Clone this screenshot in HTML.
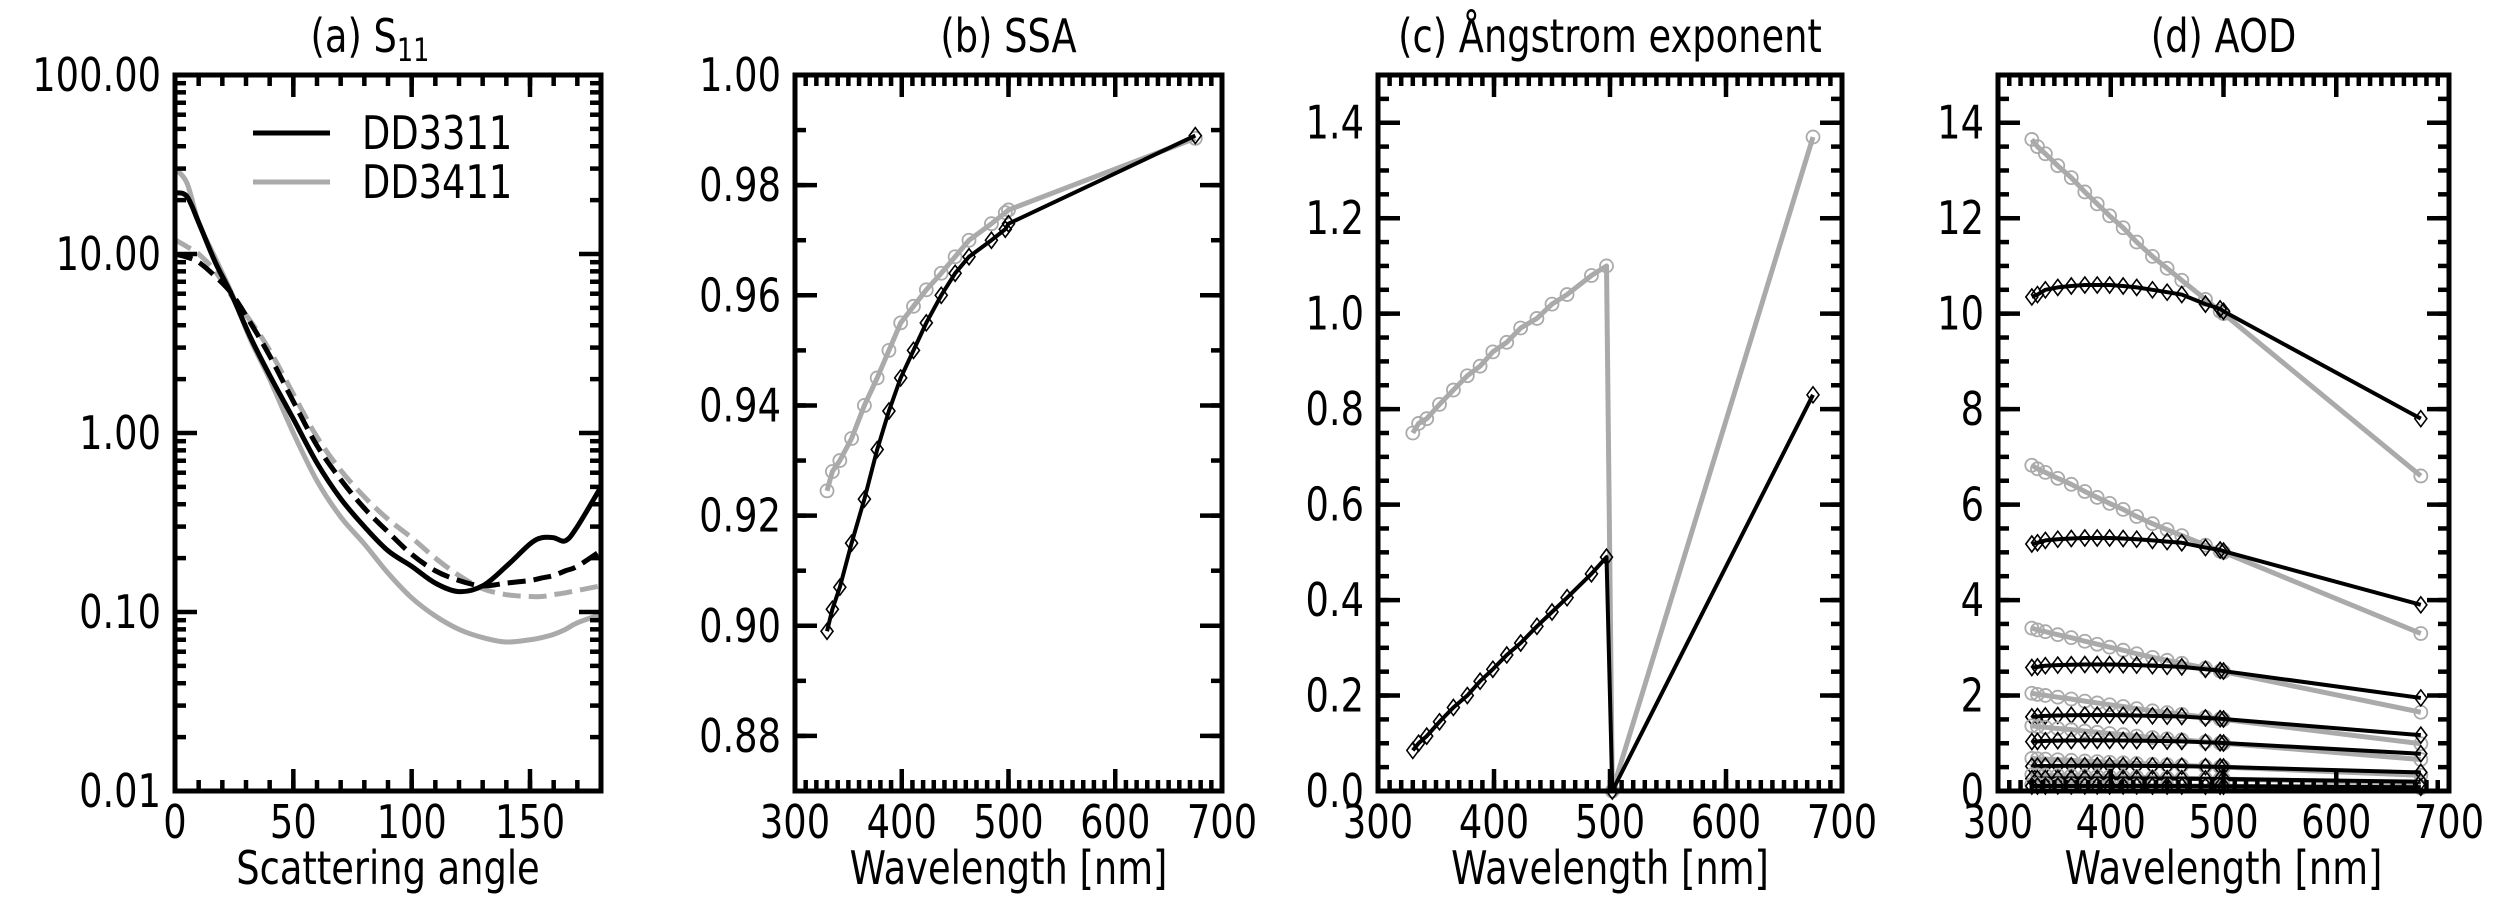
<!DOCTYPE html>
<html><head><meta charset="utf-8"><style>
html,body{margin:0;padding:0;background:#fff;}
svg{display:block;}
text{font-family:"DejaVu Sans","Liberation Sans",sans-serif;fill:#000;}
</style></head><body>
<svg id="fig" width="2499" height="905" viewBox="0 0 2499 905" xmlns="http://www.w3.org/2000/svg"></svg>
<script>
// ---------- data ----------
// (a) S11 phase function
const angA = [0,5,10,17,24,32,40,50,60,70,80,90,100,110,120,130,140,150,155,160,165,170,180];
const s11BlackSolid = [22,21,15,9,5.9,3.4,2.1,1.2,0.68,0.43,0.30,0.22,0.18,0.145,0.13,0.14,0.18,0.24,0.26,0.26,0.25,0.30,0.5];
const s11BlackDash  = [10,9.6,9,7.5,6,4.1,2.7,1.5,0.85,0.55,0.38,0.28,0.21,0.17,0.15,0.14,0.145,0.15,0.155,0.16,0.17,0.18,0.22];
const s11GraySolid  = [30,25,15,9.5,6,3.3,2.0,1.0,0.54,0.34,0.24,0.165,0.12,0.095,0.08,0.072,0.068,0.07,0.072,0.075,0.08,0.087,0.097];
const s11GrayDash   = [12,11,10,8,5.8,4.2,2.9,1.65,0.95,0.62,0.44,0.33,0.26,0.2,0.16,0.135,0.125,0.122,0.122,0.125,0.128,0.132,0.14];
const yTicksA = [0.01,0.1,1,10,100];
const yLabelsA = ["0.01","0.10","1.00","10.00","100.00"];
const xTicksA = [0,50,100,150];
// (b) SSA
const wlB = [330,335,342,353,365,377,388,399,411,423,437,450,463,484,497,500,675];
const ssaBlack = [0.899,0.903,0.907,0.915,0.923,0.932,0.939,0.945,0.950,0.955,0.960,0.964,0.967,0.970,0.972,0.973,0.989];
const ssaGray  = [0.9245,0.928,0.930,0.934,0.940,0.945,0.950,0.955,0.958,0.961,0.964,0.967,0.970,0.973,0.975,0.9755,0.9885];
const yTicksB = [0.88,0.90,0.92,0.94,0.96,0.98,1.00];
// (c) Angstrom exponent
const wlC = [330,335,342,353,365,377,388,399,411,423,437,450,463,484,497,502,675];
const angBlack = [0.085,0.10,0.115,0.145,0.175,0.20,0.23,0.255,0.285,0.31,0.345,0.375,0.405,0.455,0.49,0.0,0.83];
const angGray  = [0.75,0.77,0.78,0.81,0.84,0.87,0.89,0.92,0.94,0.97,0.99,1.02,1.04,1.08,1.10,0.0,1.37];
const yTicksC = [0,0.2,0.4,0.6,0.8,1.0,1.2,1.4];
// (d) AOD
const wlD = [330,335,342,353,365,377,388,399,411,423,437,450,463,484,497,500,675];
const aodBlack = [10.35,10.4,10.5,10.55,10.58,10.6,10.6,10.6,10.58,10.55,10.5,10.45,10.4,10.2,10.1,10.05,7.8];
const aodGray  = [13.65,13.5,13.35,13.1,12.85,12.55,12.3,12.05,11.8,11.5,11.2,10.95,10.7,10.3,10.05,10.0,6.6];
const aodScales = [1,0.5,0.25,0.15,0.1,0.05,0.025,0.01];
const yTicksD = [0,2,4,6,8,10,12,14];
const xTicksW = [300,400,500,600,700];

// ---------- drawing ----------
const NS = "http://www.w3.org/2000/svg";
const svg = document.getElementById('fig');
const TOP = 75, BOT = 791, GRAY = "#aaaaaa", FS = 46, SX = 0.8;
function mk(tag, attrs, parent){ const e=document.createElementNS(NS,tag); for(const k in attrs) e.setAttribute(k,attrs[k]); (parent||svg).appendChild(e); return e; }
function txt(x,y,s,anchor,size,parent){
  const t=mk('text',{transform:`translate(${x},${y}) scale(${SX},1)`,'text-anchor':anchor,'font-size':size},parent);
  t.textContent=s; return t;
}
function panel(name,L,R,xmin,xmax,ymin,ymax,log){
  const g=mk('g',{});
  
  
  const sx=v=>L+(v-xmin)/(xmax-xmin)*(R-L);
  const sy=log? v=>BOT-(Math.log10(v)-Math.log10(ymin))/(Math.log10(ymax)-Math.log10(ymin))*(BOT-TOP)
              : v=>BOT-(v-ymin)/(ymax-ymin)*(BOT-TOP);
  return {g,sx,sy,L,R};
}
function ticks(p,xs,ys){
  const tg=mk('g',{stroke:'#000','stroke-width':4.5},p.g);
  
  
  for(const v of xs.minor){ const x=p.sx(v); mk('line',{x1:x,x2:x,y1:BOT,y2:BOT-11},tg); mk('line',{x1:x,x2:x,y1:TOP,y2:TOP+11},tg); }
  for(const v of xs.major){ const x=p.sx(v); mk('line',{x1:x,x2:x,y1:BOT,y2:BOT-22},tg); mk('line',{x1:x,x2:x,y1:TOP,y2:TOP+22},tg); }
  for(const v of ys.minor){ const y=p.sy(v); mk('line',{x1:p.L,x2:p.L+11,y1:y,y2:y},tg); mk('line',{x1:p.R,x2:p.R-11,y1:y,y2:y},tg); }
  for(const v of ys.major){ const y=p.sy(v); mk('line',{x1:p.L,x2:p.L+22,y1:y,y2:y},tg); mk('line',{x1:p.R,x2:p.R-22,y1:y,y2:y},tg); }
}
function frame(p){ const r=mk('rect',{x:p.L,y:TOP,width:p.R-p.L,height:BOT-TOP,fill:'none',stroke:'#000','stroke-width':5},p.g);
    }
function range(a,b,s){const o=[];for(let v=a;v<=b+1e-9;v+=s)o.push(+v.toFixed(6));return o;}
function xlabels(p,vals,labels){ vals.forEach((v,i)=>{ const t=txt(p.sx(v),838,labels[i],'middle',FS,p.g);
    }); }
function ylabels(p,vals,labels){ vals.forEach((v,i)=>{ const t=txt(p.L-14,p.sy(v)+16,labels[i],'end',FS,p.g);
    }); }
function title(p,s,sub){ const t=txt((p.L+p.R)/2-(sub?18:0),52,s,'middle',FS,p.g);
  if(sub){ const ts=document.createElementNS(NS,'tspan'); ts.setAttribute('font-size',32); ts.setAttribute('dy',9); ts.textContent=sub; t.appendChild(ts);}
    }
function xtitle(p,s){ const t=txt((p.L+p.R)/2,884,s,'middle',FS,p.g);   }
function smoothPath(pts){
  let d=`M${pts[0][0]},${pts[0][1]}`;
  for(let i=0;i<pts.length-1;i++){
    const p0=pts[Math.max(0,i-1)],p1=pts[i],p2=pts[i+1],p3=pts[Math.min(pts.length-1,i+2)];
    const c1=[p1[0]+(p2[0]-p0[0])/6,p1[1]+(p2[1]-p0[1])/6], c2=[p2[0]-(p3[0]-p1[0])/6,p2[1]-(p3[1]-p1[1])/6];
    d+=` C${c1[0]},${c1[1]} ${c2[0]},${c2[1]} ${p2[0]},${p2[1]}`;
  }
  return d;
}
function series(p,xs,ys,color,marker,name,lw){
  const g=mk('g',{},p.g);
  
  
  const pts=xs.map((x,i)=>[p.sx(x),p.sy(ys[i])]);
  mk('polyline',{points:pts.map(q=>q.join(',')).join(' '),fill:'none',stroke:color,'stroke-width':lw,'stroke-linejoin':'round'},g);
  pts.forEach(q=>{
    let m;
    if(marker==='d') m=mk('path',{d:`M${q[0]},${q[1]-8} L${q[0]+6},${q[1]} L${q[0]},${q[1]+8} L${q[0]-6},${q[1]} Z`,fill:'none',stroke:'#000','stroke-width':1.6},g);
    else m=mk('circle',{cx:q[0],cy:q[1],r:6.5,fill:'none',stroke:GRAY,'stroke-width':1.8},g);
    
    
  });
}
const nmMinor=range(300,700,10), wlLabels=xTicksW.map(String);

// Panel a
const pa=panel('panel-a-s11',175,601,0,180,0.01,100,true);
{
  const curves=[[s11GraySolid,GRAY,null,'s11-dd3411-solid'],[s11GrayDash,GRAY,'18 8','s11-dd3411-dashed'],[s11BlackDash,'#000','18 8','s11-dd3311-dashed'],[s11BlackSolid,'#000',null,'s11-dd3311-solid']];
  const cp=mk('clipPath',{id:'clipA'}); mk('rect',{x:175,y:TOP,width:426,height:BOT-TOP},cp);
  curves.forEach(c=>{
    const pts=angA.map((a,i)=>[pa.sx(a),pa.sy(c[0][i])]);
    const e=mk('path',{d:smoothPath(pts),fill:'none',stroke:c[1],'stroke-width':5,'clip-path':'url(#clipA)'},pa.g);
    if(c[2]) e.setAttribute('stroke-dasharray',c[2]);
    
    
  });
  const lm=[]; for(let e=-2;e<2;e++) for(let k=2;k<=9;k++) lm.push(k*Math.pow(10,e));
  ticks(pa,{major:xTicksA,minor:range(0,180,10)},{major:yTicksA,minor:lm});
  frame(pa); ylabels(pa,yTicksA,yLabelsA); xlabels(pa,xTicksA,xTicksA.map(String));
  title(pa,'(a) S','11'); xtitle(pa,'Scattering angle');
  const lg=mk('g',{},pa.g);  
  mk('line',{x1:253,x2:330,y1:133,y2:133,stroke:'#000','stroke-width':5},lg);
  mk('line',{x1:253,x2:330,y1:182,y2:182,stroke:GRAY,'stroke-width':5},lg);
  const l1=txt(362,149,'DD3311','start',FS,lg);  
  const l2=txt(362,198,'DD3411','start',FS,lg);  
}
// Panel b
const pb=panel('panel-b-ssa',795,1222,300,700,0.87,1.00,false);
series(pb,wlB,ssaGray,GRAY,'o','ssa-dd3411',5);
series(pb,wlB,ssaBlack,'#000','d','ssa-dd3311',4);
ticks(pb,{major:xTicksW,minor:nmMinor},{major:yTicksB,minor:range(0.87,1.0,0.01)});
frame(pb); ylabels(pb,yTicksB,yTicksB.map(v=>v.toFixed(2))); xlabels(pb,xTicksW,wlLabels);
title(pb,'(b) SSA'); xtitle(pb,'Wavelength [nm]');
// Panel c
const pc=panel('panel-c-angstrom',1378,1842,300,700,0,1.5,false);
series(pc,wlC,angGray,GRAY,'o','angstrom-dd3411',5);
series(pc,wlC,angBlack,'#000','d','angstrom-dd3311',4);
ticks(pc,{major:xTicksW,minor:nmMinor},{major:yTicksC,minor:range(0,1.5,0.05)});
frame(pc); ylabels(pc,yTicksC,yTicksC.map(v=>v.toFixed(1))); xlabels(pc,xTicksW,wlLabels);
title(pc,'(c) Ångstrom exponent'); xtitle(pc,'Wavelength [nm]');
// Panel d
const pd=panel('panel-d-aod',1998,2449,300,700,0,15,false);
aodScales.forEach((s,k)=>{
  series(pd,wlD,aodGray.map(v=>v*s),GRAY,'o','aod-dd3411-'+k,5);
  series(pd,wlD,aodBlack.map(v=>v*s),'#000','d','aod-dd3311-'+k,4);
});
ticks(pd,{major:xTicksW,minor:nmMinor},{major:yTicksD,minor:range(0,15,0.5)});
frame(pd); ylabels(pd,yTicksD,yTicksD.map(String)); xlabels(pd,xTicksW,wlLabels);
title(pd,'(d) AOD'); xtitle(pd,'Wavelength [nm]');
</script>
</body></html>
